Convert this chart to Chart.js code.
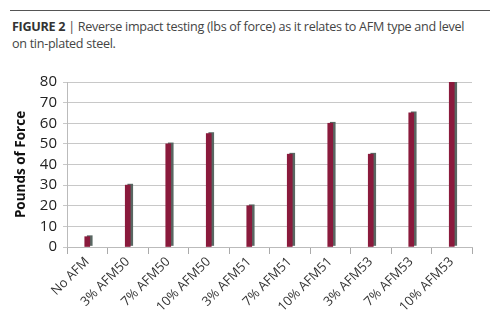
<!DOCTYPE html>
<html>
<head>
<meta charset="utf-8">
<script src="https://cdn.jsdelivr.net/npm/chart.js"></script>
<style>
  html, body { margin: 0; padding: 0; background: #fff; }
  #page { position: relative; width: 500px; height: 326px; overflow: hidden; }
  #rule { position: absolute; left: 10px; top: 10px; width: 480px; border-top: 1px solid #555; }
  #caption {
    position: absolute; left: 12px; top: 18px; width: 462px;
    font-family: "Open Sans", sans-serif; font-size: 12.6px; line-height: 17px;
    color: #444; letter-spacing: -0.3px;
  }
  #caption b { color: #333; font-weight: 700; }
  #chart { position: absolute; left: 0; top: 0; }
</style>
</head>
<body>
<div id="page">
  <div id="rule"></div>
  <div id="caption"><b>FIGURE 2</b> | Reverse impact testing (lbs of force) as it relates to AFM type and level on tin-plated steel.</div>
  <canvas id="chart" width="500" height="326"></canvas>
</div>
<script>
// AFM type / level and reverse impact result
const samples = ['No AFM', '3% AFM50', '7% AFM50', '10% AFM50', '3% AFM51', '7% AFM51', '10% AFM51', '3% AFM53', '7% AFM53', '10% AFM53'];
const poundsOfForce = [5, 30, 50, 55, 20, 45, 60, 45, 65, 80];
const yTicks = [0, 10, 20, 30, 40, 50, 60, 70, 80];

// grey side face on each bar, like a flat 3D column
const barShade = {
  id: 'barShade',
  beforeDatasetsDraw(chart) {
    const ctx = chart.ctx;
    ctx.save();
    ctx.shadowColor = 'rgba(80,95,90,0.95)';
    ctx.shadowOffsetX = 2.5;
    ctx.shadowOffsetY = -1;
    ctx.shadowBlur = 0;
  },
  afterDatasetsDraw(chart) {
    chart.ctx.restore();
  }
};

new Chart(document.getElementById('chart'), {
  type: 'bar',
  data: {
    labels: samples,
    datasets: [{
      data: poundsOfForce,
      backgroundColor: '#8a1a3c',
      borderWidth: 0,
      barThickness: 5
    }]
  },
  plugins: [barShade],
  options: {
    responsive: false,
    animation: false,
    layout: { padding: { top: 82, right: 28, left: 0, bottom: 0 } },
    plugins: { legend: { display: false }, tooltip: { enabled: false } },
    scales: {
      x: {
        grid: { offset: true, drawOnChartArea: false, tickLength: 7, color: '#aaa' },
        border: { color: '#bbb' },
        ticks: {
          autoSkip: false, minRotation: 45, maxRotation: 45, padding: 0,
          color: '#333', font: { family: '"Open Sans", sans-serif', size: 13 }
        },
        afterFit(scale) { scale.height = 79; }
      },
      y: {
        min: 0, max: 80,
        afterBuildTicks(scale) { scale.ticks = yTicks.map(v => ({ value: v })); },
        grid: { color: '#c8c8c8', tickLength: 4 },
        border: { color: '#bbb' },
        ticks: { autoSkip: false, padding: 6, color: '#222', font: { family: '"Open Sans", sans-serif', size: 15 } },
        title: {
          display: true, text: 'Pounds of Force', color: '#111', padding: { top: 13, bottom: 0 },
          font: { family: '"Open Sans", sans-serif', size: 13.5, weight: 'bold' }
        },
        afterFit(scale) { scale.width = 67; }
      }
    }
  }
});
</script>
</body>
</html>
